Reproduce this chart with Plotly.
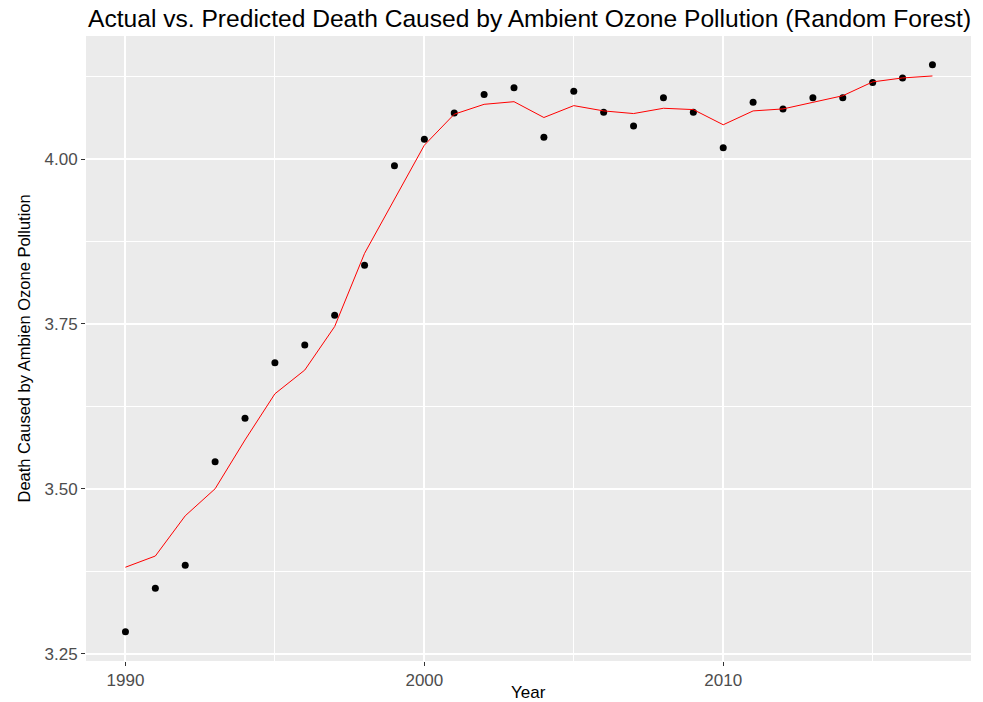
import plotly.graph_objects as go

years = list(range(1990, 2018))
actual = [3.283, 3.349, 3.384, 3.541, 3.607, 3.691, 3.718, 3.763, 3.839, 3.990,
          4.030, 4.070, 4.098, 4.108, 4.033, 4.103, 4.071, 4.050, 4.093, 4.071,
          4.017, 4.086, 4.076, 4.093, 4.093, 4.116, 4.123, 4.143]
predicted = [3.381, 3.398, 3.459, 3.500, 3.574, 3.644, 3.680, 3.746, 3.857, 3.938,
             4.021, 4.068, 4.083, 4.087, 4.063, 4.081, 4.073, 4.069, 4.077, 4.075,
             4.052, 4.073, 4.076, 4.086, 4.096, 4.117, 4.123, 4.126]
x_ticks = [1990, 2000, 2010]
y_ticks = [3.25, 3.50, 3.75, 4.00]
y_tick_labels = ["3.25", "3.50", "3.75", "4.00"]

FONT = "Liberation Sans, Arial, sans-serif"

fig = go.Figure()
fig.add_trace(go.Scatter(x=years, y=actual, mode="markers",
                         marker=dict(color="black", size=7), showlegend=False))
fig.add_trace(go.Scatter(x=years, y=predicted, mode="lines",
                         line=dict(color="#FF0000", width=1), showlegend=False))

fig.update_layout(
    width=983, height=702,
    margin=dict(l=86, r=12, t=36, b=41),
    paper_bgcolor="white", plot_bgcolor="#EBEBEB",
    font=dict(family=FONT),
    title=dict(text="Actual vs. Predicted Death Caused by Ambient Ozone Pollution (Random Forest)",
               x=88/983, xanchor="left", xref="container",
               y=1-18/702, yanchor="middle", yref="container",
               font=dict(size=24.6, color="black", family=FONT)),
    xaxis=dict(range=[1988.68, 2018.29], tickvals=x_ticks, ticktext=[str(v) for v in x_ticks],
               showgrid=True, gridcolor="white", gridwidth=1.6,
               minor=dict(dtick=5, tick0=1985, showgrid=True, gridcolor="white", gridwidth=0.8, ticks=""),
               ticks="outside", ticklen=4, tickcolor="#333333", tickwidth=1,
               tickfont=dict(size=17, color="#4D4D4D"), zeroline=False, showline=False),
    yaxis=dict(range=[3.2388, 4.1866], tickvals=y_ticks, ticktext=y_tick_labels,
               showgrid=True, gridcolor="white", gridwidth=1.6,
               minor=dict(dtick=0.125, tick0=3.125, showgrid=True, gridcolor="white", gridwidth=0.8, ticks=""),
               ticks="outside", ticklen=4, tickcolor="#333333", tickwidth=1,
               tickfont=dict(size=17, color="#4D4D4D"), zeroline=False, showline=False),
    annotations=[
        dict(text="Year", xref="paper", yref="paper", x=0.5, y=0, xanchor="center",
             yanchor="top", yshift=-20, showarrow=False,
             font=dict(size=17, color="black", family=FONT)),
        dict(text="Death Caused by Ambien Ozone Pollution", xref="paper", yref="paper",
             x=0, xshift=-63, y=0.5, xanchor="center", yanchor="middle", textangle=-90,
             showarrow=False, font=dict(size=16.5, color="black", family=FONT)),
    ],
)

fig.write_html("out.html", config={"displayModeBar": False},
               post_script="document.body.style.margin='0';document.body.style.overflow='hidden';")
